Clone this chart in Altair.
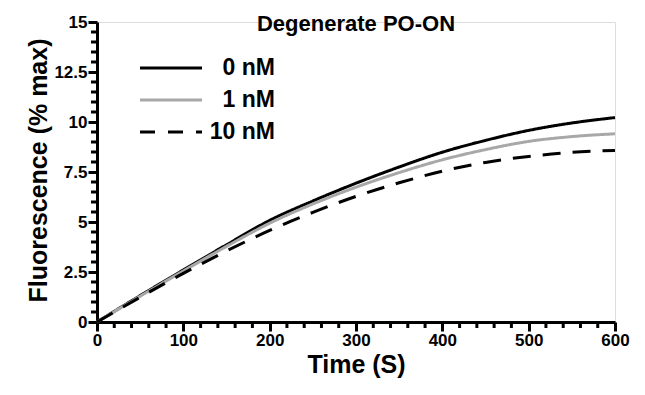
import altair as alt
import pandas as pd

FONT = "Liberation Sans"

time_s = [0, 50, 100, 150, 200, 250, 300, 350, 400, 450, 500, 550, 600]
nm0 = [0, 1.32, 2.60, 3.86, 5.08, 6.05, 6.94, 7.75, 8.49, 9.08, 9.58, 9.95, 10.22]
nm1 = [0, 1.29, 2.55, 3.78, 4.94, 5.90, 6.74, 7.47, 8.11, 8.62, 9.03, 9.27, 9.41]
nm10 = [0, 1.24, 2.43, 3.55, 4.58, 5.48, 6.28, 6.96, 7.54, 7.98, 8.28, 8.48, 8.58]
series = ["0 nM", "1 nM", "10 nM"]
colors = ["#000000", "#a8a8a8", "#000000"]

x_major = list(range(0, 601, 100))
x_minor = [v for v in range(0, 601, 20) if v % 100 != 0]
y_major = [0, 2.5, 5, 7.5, 10, 12.5, 15]
y_minor = [i * 0.5 for i in range(31) if (i * 0.5) % 2.5 != 0]

rows = []
for name, vals in zip(series, [nm0, nm1, nm10]):
    for t, v in zip(time_s, vals):
        rows.append({"time": t, "value": v, "series": name})
df = pd.DataFrame(rows)

color_scale = alt.Scale(domain=series, range=colors)
x_scale = alt.Scale(domain=[0, 600], nice=False)
y_scale = alt.Scale(domain=[0, 15], nice=False)

lines = alt.Chart(df).mark_line(strokeWidth=3, interpolate="monotone").encode(
    x=alt.X(
        "time:Q",
        scale=x_scale,
        axis=alt.Axis(
            orient="bottom",
            values=x_major,
            format="d",
            labelOverlap=False,
            labelFlush=False,
            tickSize=9,
            tickWidth=3,
            tickColor="black",
            domainColor="black",
            domainWidth=3,
            labelFont=FONT,
            labelFontSize=17,
            labelFontWeight="bold",
            labelColor="black",
            labelPadding=1,
            title="Time (S)",
            titleFont=FONT,
            titleFontSize=25,
            titleFontWeight="bold",
            titleColor="black",
            titleX=259,
            titleY=42,
            titleBaseline="middle",
            titleAlign="center",
            grid=False,
        ),
    ),
    y=alt.Y(
        "value:Q",
        scale=y_scale,
        axis=alt.Axis(
            orient="left",
            values=y_major,
            labelExpr="datum.value % 1 === 0 ? format(datum.value, 'd') : format(datum.value, '.1f')",
            labelOverlap=False,
            labelFlush=False,
            tickSize=9,
            tickWidth=3,
            tickColor="black",
            domainColor="black",
            domainWidth=3,
            labelFont=FONT,
            labelFontSize=17,
            labelFontWeight="bold",
            labelColor="black",
            labelPadding=1,
            title="Fluorescence (% max)",
            titleFont=FONT,
            titleFontSize=25,
            titleFontWeight="bold",
            titleColor="black",
            titleX=-59,
            titleY=148,
            titleAngle=270,
            titleBaseline="middle",
            titleAlign="center",
            grid=False,
        ),
    ),
    color=alt.Color("series:N", scale=color_scale, legend=None),
    strokeDash=alt.StrokeDash(
        "series:N",
        scale=alt.Scale(domain=series, range=[[1, 0], [1, 0], [18, 12]]),
        legend=None,
    ),
)

# minor ticks, placed through the shared scales
xminor_df = pd.DataFrame({"time": x_minor})
xminor = alt.Chart(xminor_df).mark_rule(color="black", strokeWidth=3).encode(
    x=alt.X("time:Q", scale=x_scale),
    y=alt.value(300),
    y2=alt.value(306),
)
yminor_df = pd.DataFrame({"value": y_minor})
yminor = alt.Chart(yminor_df).mark_rule(color="black", strokeWidth=3).encode(
    y=alt.Y("value:Q", scale=y_scale),
    x=alt.value(0),
    x2=alt.value(-6),
)

plot = alt.layer(lines, xminor, yminor)

leg_df = pd.DataFrame({"series": series})
leg_y = alt.Y(
    "series:N",
    scale=alt.Scale(type="point", domain=series, range=[46, 110], padding=0),
    axis=None,
)

leg_rule = alt.Chart(leg_df).mark_rule(strokeWidth=3).encode(
    x=alt.value(43),
    x2=alt.value(105),
    y=leg_y,
    color=alt.Color("series:N", scale=color_scale, legend=None),
    strokeDash=alt.StrokeDash(
        "series:N",
        scale=alt.Scale(domain=series, range=[[1, 0], [1, 0], [15, 13]]),
        legend=None,
    ),
)

leg_text = alt.Chart(leg_df).mark_text(
    align="right", baseline="middle", font=FONT, fontSize=23, fontWeight="bold", color="black"
).encode(
    x=alt.value(178),
    y=leg_y,
    text="series:N",
)

chart = alt.layer(plot, leg_rule, leg_text).resolve_scale(
    y="independent", strokeDash="independent"
).properties(
    width=518,
    height=300,
    title=alt.TitleParams(
        "Degenerate PO-ON",
        font=FONT,
        fontSize=22,
        fontWeight="bold",
        color="black",
        anchor="middle",
        frame="group",
        offset=-23,
    ),
    autosize=alt.AutoSizeParams(type="none"),
    padding={"left": 89, "top": 14, "right": 22, "bottom": 57},
).configure_view(stroke=None).configure(background="white")

chart.save("out.html", embed_options={"renderer": "svg", "actions": False})
